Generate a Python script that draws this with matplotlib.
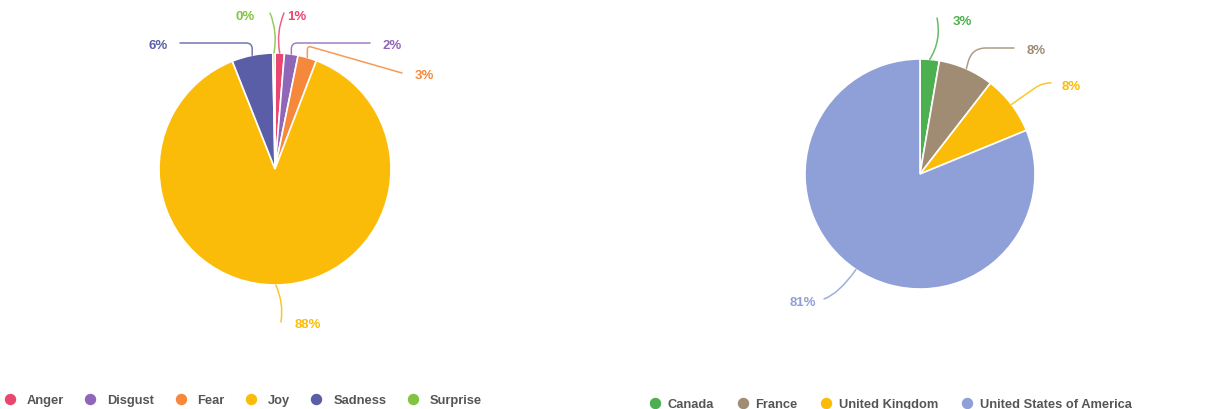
import matplotlib
matplotlib.use("Agg")
import matplotlib.pyplot as plt
from matplotlib.lines import Line2D
import numpy as np

# emotion breakdown (percent of posts)
emotions = ["Anger", "Disgust", "Fear", "Joy", "Sadness", "Surprise"]
emotion_share = [1.3, 1.9, 2.6, 88.2, 5.7, 0.3]
emotion_colors = ["#e8476f", "#8f66b8", "#f5883b", "#fbbc09", "#5a5ea6", "#82c341"]

# country breakdown (percent of posts)
countries = ["Canada", "France", "United Kingdom", "United States of America"]
country_share = [2.7, 7.8, 8.3, 81.2]
country_colors = ["#4caf50", "#a08b73", "#fbbc09", "#8f9fd7"]

W, H = 1207, 410

# label layout in pixel coords (y down): line end, text position, connection style
emotion_layout = [
    ((284, 14), (297, 17), "arc3,rad=0.15"),
    ((370, 44), (392, 46), "angle,angleA=0,angleB=90,rad=6"),
    ((402, 74), (424, 76), "angle,angleA=-16,angleB=90,rad=4"),
    ((281, 323), (308, 325), "arc3,rad=0.15"),
    ((180, 44), (158, 46), "angle,angleA=0,angleB=90,rad=6"),
    ((270, 14), (245, 17), "arc3,rad=-0.15"),
]
country_layout = [
    ((937, 19), (962, 22), "arc3,rad=-0.2"),
    ((1014, 49), (1036, 51), "angle,angleA=0,angleB=75,rad=14"),
    ((1051, 84), (1071, 87), "angle,angleA=0,angleB=35,rad=8"),
    ((824, 300), (803, 303), "angle3,angleA=20,angleB=55"),
]

FONT = "Liberation Sans"

fig = plt.figure(figsize=(W / 100, H / 100), dpi=100)
ax = fig.add_axes([0, 0, 1, 1])


def draw_pie(values, colors, center, radius, layout):
    wedges, _ = ax.pie(values, colors=colors, center=center, radius=radius,
                       startangle=90, counterclock=False,
                       wedgeprops=dict(edgecolor="white", linewidth=1.2))
    for w, v, c, (end, lab, style) in zip(wedges, values, colors, layout):
        mid = np.deg2rad((w.theta1 + w.theta2) / 2)
        anchor = (center[0] + radius * np.cos(mid), center[1] + radius * np.sin(mid))
        ax.annotate("", xy=anchor, xytext=(end[0], H - end[1]),
                    arrowprops=dict(arrowstyle="-", color=c, lw=1.1, alpha=0.85,
                                    shrinkA=0, shrinkB=0, connectionstyle=style))
        ax.text(lab[0], H - lab[1], f"{round(v)}%", color=c, fontsize=9.5,
                fontweight="bold", family=FONT, ha="center", va="center")
    return wedges


draw_pie(emotion_share, emotion_colors, (275, H - 170), 116, emotion_layout)
draw_pie(country_share, country_colors, (920, H - 175), 115, country_layout)

ax.set_xlim(0, W)
ax.set_ylim(0, H)
ax.set_aspect("auto")
ax.axis("off")


def dot(c):
    return Line2D([], [], marker="o", linestyle="", markersize=7.2,
                  markerfacecolor=c, markeredgecolor=c)


leg1 = ax.legend([dot(c) for c in emotion_colors], emotions, ncol=6,
                 loc="center left", bbox_to_anchor=(-3, H - 401),
                 bbox_transform=ax.transData, frameon=False, borderpad=0,
                 handlelength=1, handletextpad=0.8, columnspacing=1.55,
                 prop=dict(family=FONT, weight="bold", size=9.3))
for t in leg1.get_texts():
    t.set_color("#555555")
ax.add_artist(leg1)

leg2 = ax.legend([dot(c) for c in country_colors], countries, ncol=4,
                 loc="center left", bbox_to_anchor=(642, H - 405),
                 bbox_transform=ax.transData, frameon=False, borderpad=0,
                 handlelength=1, handletextpad=0.5, columnspacing=1.7,
                 prop=dict(family=FONT, weight="bold", size=9.3))
for t in leg2.get_texts():
    t.set_color("#555555")

fig.savefig("out.png", dpi=100, facecolor="white")
